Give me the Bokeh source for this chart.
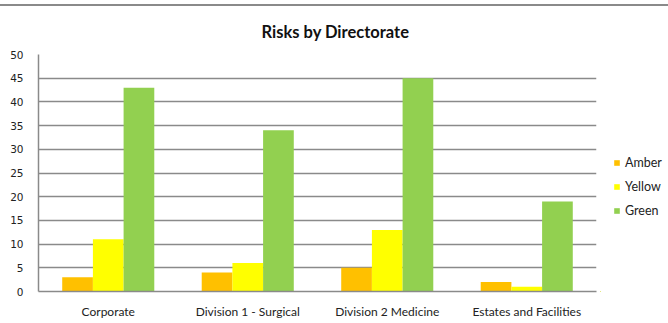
from bokeh.plotting import figure
from bokeh.layouts import row
from bokeh.models import ColumnDataSource, FactorRange, Range1d, FixedTicker, Legend, LegendItem
from bokeh.transform import dodge
from bokeh.embed import file_html
from bokeh.resources import INLINE

categories = ["Corporate", "Division 1 - Surgical", "Division 2 Medicine", "Estates and Facilities"]
amber = [3, 4, 5, 2]
yellow = [11, 6, 13, 1]
green = [43, 34, 45, 19]
y_ticks = [0, 5, 10, 15, 20, 25, 30, 35, 40, 45, 50]
series_names = ["Amber", "Yellow", "Green"]
series_cols = ["amber", "yellow", "green"]
series_colors = ["#FFC000", "#FFFF00", "#92D050"]

src = ColumnDataSource(dict(cat=categories, amber=amber, yellow=yellow, green=green))
top_style = {"margin-top": "4px", "border-top": "2px solid #8a8a8a"}

p = figure(width=600, height=317, x_range=FactorRange(*categories, range_padding=0),
           y_range=Range1d(0, 50), output_backend="svg", toolbar_location=None,
           min_border_left=38, min_border_right=4, min_border_top=48, min_border_bottom=32)
p.styles = top_style
p.title.text = "Risks by Directorate"
p.title.align = "left"
p.title.text_font = "Lato"
p.title.text_font_size = "16.5px"
p.title.text_font_style = "bold"
p.title.text_color = "#111111"
p.title.offset = 223
p.title.standoff = 26

bw = 0.22
for off, col, c in zip([-bw, 0, bw], series_cols, series_colors):
    p.vbar(x=dodge("cat", off, range=p.x_range), top=col, width=bw, source=src,
           fill_color=c, line_color=None)

p.outline_line_color = None
p.xgrid.grid_line_color = None
p.ygrid.grid_line_color = "#8a8a8a"
p.ygrid.grid_line_width = 1.5
p.ygrid.level = "underlay"
p.yaxis.ticker = FixedTicker(ticks=y_ticks)
p.yaxis.axis_line_color = "#8a8a8a"
p.yaxis.axis_line_width = 1.5
p.yaxis.major_tick_line_color = None
p.yaxis.minor_tick_line_color = None
p.yaxis.major_label_text_font = "DejaVu Sans"
p.yaxis.major_label_text_font_size = "10.5px"
p.yaxis.major_label_text_color = "#222222"
p.yaxis.major_label_standoff = 9
p.xaxis.axis_line_color = "#8a8a8a"
p.xaxis.axis_line_width = 1.5
p.xaxis.major_tick_line_color = None
p.xaxis.minor_tick_line_color = None
p.xaxis.major_label_text_font = "Lato"
p.xaxis.major_label_text_font_size = "12px"
p.xaxis.major_label_text_color = "#222222"
p.xaxis.major_label_standoff = 6

# legend panel: a figure whose view shows none of the (real) data, only the legend
lf = figure(width=68, height=317, output_backend="svg", toolbar_location=None,
            x_range=Range1d(1000, 1001), y_range=Range1d(1000, 1001),
            x_axis_location=None, y_axis_location=None,
            min_border_left=0, min_border_right=0, min_border_top=0, min_border_bottom=0)
lf.styles = top_style
lf.outline_line_color = None
lf.xgrid.grid_line_color = None
lf.ygrid.grid_line_color = None
items = []
for name, col, c in zip(series_names, series_cols, series_colors):
    r = lf.vbar(x=col, top=col, width=0.5, source=src, fill_color=c, line_color=None)
    items.append(LegendItem(label=name, renderers=[r]))
legend = Legend(items=items, location=(13, 71), glyph_width=7, glyph_height=7, label_height=20,
                spacing=4, padding=0, margin=0, border_line_color=None,
                background_fill_alpha=0, label_text_font="Lato", label_text_font_size="12.5px",
                label_text_color="#222222", label_standoff=5)
lf.add_layout(legend, "center")

layout = row(p, lf)
open("out.html", "w").write(file_html(layout, INLINE))
